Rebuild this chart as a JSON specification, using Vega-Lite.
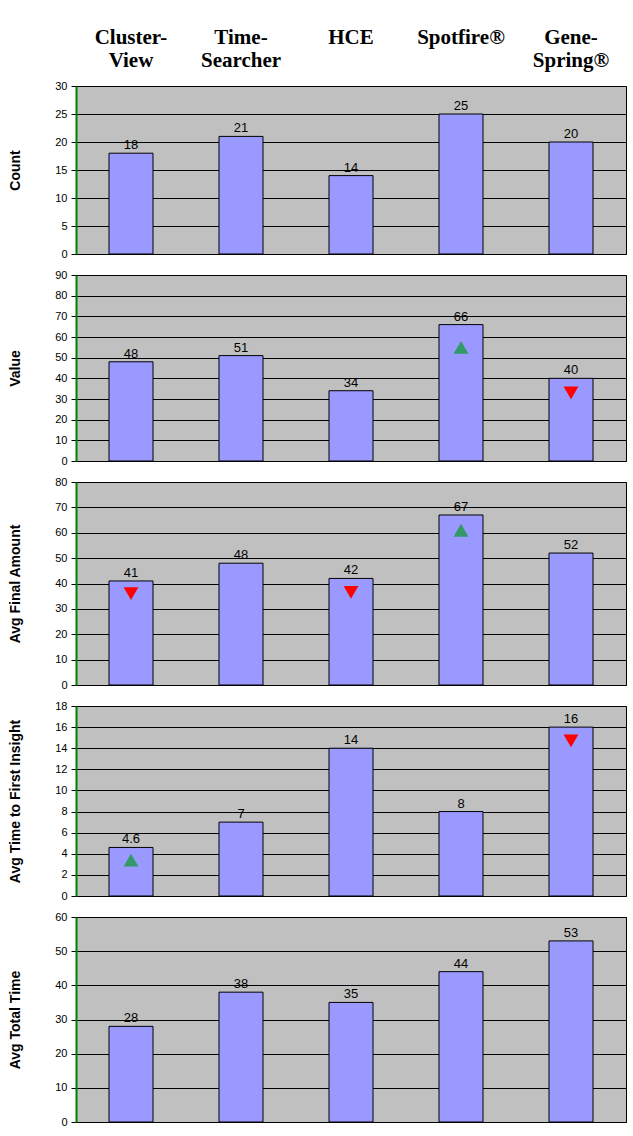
{
"$schema":"https://vega.github.io/schema/vega-lite/v6.json",
"padding":{"left":8,"top":0,"right":0,"bottom":0},
"spacing":8,
"datasets":{"d":[
{"tool":"Cluster-View","metric":"Count","value":18,"label":"18"},
{"tool":"Time-Searcher","metric":"Count","value":21,"label":"21"},
{"tool":"HCE","metric":"Count","value":14,"label":"14"},
{"tool":"Spotfire","metric":"Count","value":25,"label":"25"},
{"tool":"GeneSpring","metric":"Count","value":20,"label":"20"},
{"tool":"Cluster-View","metric":"Value","value":48,"label":"48"},
{"tool":"Time-Searcher","metric":"Value","value":51,"label":"51"},
{"tool":"HCE","metric":"Value","value":34,"label":"34"},
{"tool":"Spotfire","metric":"Value","value":66,"label":"66","marker":"up","my":55},
{"tool":"GeneSpring","metric":"Value","value":40,"label":"40","marker":"down","my":33},
{"tool":"Cluster-View","metric":"Final","value":41,"label":"41","marker":"down","my":36},
{"tool":"Time-Searcher","metric":"Final","value":48,"label":"48"},
{"tool":"HCE","metric":"Final","value":42,"label":"42","marker":"down","my":36.5},
{"tool":"Spotfire","metric":"Final","value":67,"label":"67","marker":"up","my":61},
{"tool":"GeneSpring","metric":"Final","value":52,"label":"52"},
{"tool":"Cluster-View","metric":"Insight","value":4.6,"label":"4.6","marker":"up","my":3.4},
{"tool":"Time-Searcher","metric":"Insight","value":7,"label":"7"},
{"tool":"HCE","metric":"Insight","value":14,"label":"14"},
{"tool":"Spotfire","metric":"Insight","value":8,"label":"8"},
{"tool":"GeneSpring","metric":"Insight","value":16,"label":"16","marker":"down","my":14.7},
{"tool":"Cluster-View","metric":"Total","value":28,"label":"28"},
{"tool":"Time-Searcher","metric":"Total","value":38,"label":"38"},
{"tool":"HCE","metric":"Total","value":35,"label":"35"},
{"tool":"Spotfire","metric":"Total","value":44,"label":"44"},
{"tool":"GeneSpring","metric":"Total","value":53,"label":"53"}
],
"h":[
{"tool":"Cluster-View","name":"Cluster-\nView"},
{"tool":"Time-Searcher","name":"Time-\nSearcher"},
{"tool":"HCE","name":"HCE"},
{"tool":"Spotfire","name":"Spotfire®"},
{"tool":"GeneSpring","name":"Gene-\nSpring®"}
]},
"config":{"view":{"fill":"#c0c0c0","stroke":"#000"},
"axis":{"labelFont":"Liberation Sans","labelFontSize":11,"labelColor":"#000","titleFont":"Liberation Sans","titleFontSize":14,"titleFontWeight":"bold","titleColor":"#000","gridColor":"#000","gridWidth":1,"tickColor":"#000","domainColor":"green","domainWidth":2,"titlePadding":32,"labelPadding":4}},
"vconcat":[
{"width":550,"height":48,"data":{"name":"h"},"view":{"fill":null,"stroke":null},
"mark":{"type":"text","font":"Liberation Serif","fontWeight":"bold","fontSize":21,"lineBreak":"\n","baseline":"bottom","dy":24},
"encoding":{"x":{"field":"tool","type":"nominal","sort":null,"axis":null,"scale":{"paddingInner":0.6,"paddingOuter":0.3}},"text":{"field":"name"}}},
{"width":550,"height":168,"data":{"name":"d"},"transform":[{"filter":"datum.metric=='Count'"}],
"encoding":{"x":{"field":"tool","type":"nominal","sort":null,"axis":null,"scale":{"paddingInner":0.6,"paddingOuter":0.3}},
"y":{"field":"value","type":"quantitative","scale":{"domain":[0,30]},"axis":{"tickCount":6,"title":"Count","grid":true}}},
"layer":[{"mark":{"type":"bar","fill":"#9999ff","stroke":"#000","strokeWidth":1}},
{"mark":{"type":"text","dy":-8,"fontSize":13,"font":"Liberation Sans"},"encoding":{"text":{"field":"label"}}}]},
{"width":550,"height":186,"data":{"name":"d"},"transform":[{"filter":"datum.metric=='Value'"}],
"encoding":{"x":{"field":"tool","type":"nominal","sort":null,"axis":null,"scale":{"paddingInner":0.6,"paddingOuter":0.3}},
"y":{"field":"value","type":"quantitative","scale":{"domain":[0,90]},"axis":{"tickCount":9,"title":"Value","grid":true}}},
"layer":[{"mark":{"type":"bar","fill":"#9999ff","stroke":"#000","strokeWidth":1}},
{"mark":{"type":"text","dy":-8,"fontSize":13,"font":"Liberation Sans"},"encoding":{"text":{"field":"label"}}},
{"transform":[{"filter":"datum.marker"}],"mark":{"type":"point","filled":true,"size":220,"opacity":1},"encoding":{"y":{"field":"my","type":"quantitative"},"shape":{"field":"marker","scale":{"domain":["up","down"],"range":["triangle-up","triangle-down"]},"legend":null},"color":{"field":"marker","scale":{"domain":["up","down"],"range":["#339966","#ff0000"]},"legend":null}}}]},
{"width":550,"height":203,"data":{"name":"d"},"transform":[{"filter":"datum.metric=='Final'"}],
"encoding":{"x":{"field":"tool","type":"nominal","sort":null,"axis":null,"scale":{"paddingInner":0.6,"paddingOuter":0.3}},
"y":{"field":"value","type":"quantitative","scale":{"domain":[0,80]},"axis":{"tickCount":8,"title":"Avg Final Amount","grid":true}}},
"layer":[{"mark":{"type":"bar","fill":"#9999ff","stroke":"#000","strokeWidth":1}},
{"mark":{"type":"text","dy":-8,"fontSize":13,"font":"Liberation Sans"},"encoding":{"text":{"field":"label"}}},
{"transform":[{"filter":"datum.marker"}],"mark":{"type":"point","filled":true,"size":220,"opacity":1},"encoding":{"y":{"field":"my","type":"quantitative"},"shape":{"field":"marker","scale":{"domain":["up","down"],"range":["triangle-up","triangle-down"]},"legend":null},"color":{"field":"marker","scale":{"domain":["up","down"],"range":["#339966","#ff0000"]},"legend":null}}}]},
{"width":550,"height":190,"data":{"name":"d"},"transform":[{"filter":"datum.metric=='Insight'"}],
"encoding":{"x":{"field":"tool","type":"nominal","sort":null,"axis":null,"scale":{"paddingInner":0.6,"paddingOuter":0.3}},
"y":{"field":"value","type":"quantitative","scale":{"domain":[0,18]},"axis":{"tickCount":9,"title":"Avg Time to First Insight","grid":true}}},
"layer":[{"mark":{"type":"bar","fill":"#9999ff","stroke":"#000","strokeWidth":1}},
{"mark":{"type":"text","dy":-8,"fontSize":13,"font":"Liberation Sans"},"encoding":{"text":{"field":"label"}}},
{"transform":[{"filter":"datum.marker"}],"mark":{"type":"point","filled":true,"size":220,"opacity":1},"encoding":{"y":{"field":"my","type":"quantitative"},"shape":{"field":"marker","scale":{"domain":["up","down"],"range":["triangle-up","triangle-down"]},"legend":null},"color":{"field":"marker","scale":{"domain":["up","down"],"range":["#339966","#ff0000"]},"legend":null}}}]},
{"width":550,"height":205,"data":{"name":"d"},"transform":[{"filter":"datum.metric=='Total'"}],
"encoding":{"x":{"field":"tool","type":"nominal","sort":null,"axis":null,"scale":{"paddingInner":0.6,"paddingOuter":0.3}},
"y":{"field":"value","type":"quantitative","scale":{"domain":[0,60]},"axis":{"tickCount":6,"title":"Avg Total Time","grid":true}}},
"layer":[{"mark":{"type":"bar","fill":"#9999ff","stroke":"#000","strokeWidth":1}},
{"mark":{"type":"text","dy":-8,"fontSize":13,"font":"Liberation Sans"},"encoding":{"text":{"field":"label"}}}]}
]}
